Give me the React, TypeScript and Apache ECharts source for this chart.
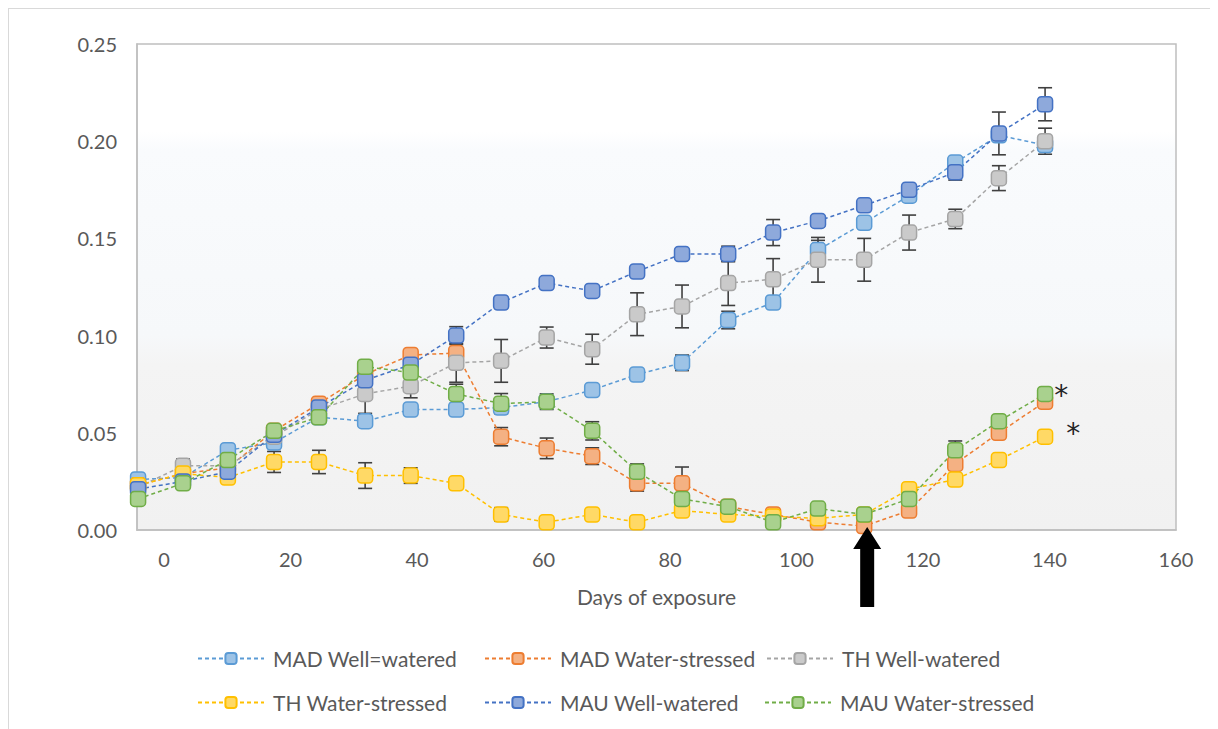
import React, { useEffect, useRef } from "react";
import * as echarts from "echarts";

// ---- data ----
const DAYS = [-4.1, 3.0, 10.1, 17.4, 24.5, 31.8, 39.0, 46.2, 53.3, 60.5, 67.7, 74.8, 81.9, 89.2, 96.3, 103.4, 110.7, 117.8, 125.1, 132.0, 139.3];

const SERIES_NAMES = [
  "MAD Well=watered",
  "MAD Water-stressed",
  "TH Well-watered",
  "TH Water-stressed",
  "MAU Well-watered",
  "MAU Water-stressed",
];

const MAD_WW = [0.026, 0.027, 0.041, 0.045, 0.058, 0.056, 0.062, 0.062, 0.063, 0.066, 0.072, 0.080, 0.086, 0.108, 0.117, 0.144, 0.158, 0.172, 0.189, 0.203, 0.198];
const MAD_WS = [0.023, 0.029, 0.032, 0.051, 0.065, 0.080, 0.090, 0.091, 0.048, 0.042, 0.038, 0.024, 0.024, 0.012, 0.008, 0.004, 0.002, 0.010, 0.034, 0.050, 0.066];
const TH_WW = [0.022, 0.033, 0.033, 0.048, 0.062, 0.070, 0.074, 0.086, 0.087, 0.099, 0.093, 0.111, 0.115, 0.127, 0.129, 0.139, 0.139, 0.153, 0.160, 0.181, 0.200];
const TH_WS = [0.023, 0.029, 0.027, 0.035, 0.035, 0.028, 0.028, 0.024, 0.008, 0.004, 0.008, 0.004, 0.010, 0.008, 0.007, 0.006, 0.008, 0.021, 0.026, 0.036, 0.048];
const MAU_WW = [0.021, 0.025, 0.030, 0.049, 0.063, 0.077, 0.085, 0.100, 0.117, 0.127, 0.123, 0.133, 0.142, 0.142, 0.153, 0.159, 0.167, 0.175, 0.184, 0.204, 0.219];
const MAU_WS = [0.016, 0.024, 0.036, 0.051, 0.058, 0.084, 0.081, 0.070, 0.065, 0.066, 0.051, 0.030, 0.016, 0.012, 0.004, 0.011, 0.008, 0.016, 0.041, 0.056, 0.070];

// error bar half-lengths (0 = none visible)
const MAD_WW_ERR = [0, 0, 0, 0, 0, 0, 0, 0, 0, 0, 0.002, 0.002, 0.004, 0.0045, 0, 0.005, 0, 0.002, 0.003, 0, 0.003];
const MAD_WS_ERR = [0, 0, 0, 0.002, 0, 0, 0, 0.006, 0.0047, 0.0053, 0.0043, 0.004, 0.0084, 0, 0, 0, 0, 0, 0, 0, 0];
const TH_WW_ERR = [0, 0.0035, 0, 0, 0, 0.01, 0.006, 0.01, 0.011, 0.0054, 0.0077, 0.011, 0.011, 0.0115, 0.0106, 0.0115, 0.011, 0.009, 0.005, 0.0064, 0.0067];
const TH_WS_ERR = [0, 0, 0, 0.0054, 0.006, 0.0066, 0.004, 0, 0.0035, 0, 0, 0, 0, 0, 0, 0, 0, 0, 0, 0, 0];
const MAU_WW_ERR = [0, 0, 0, 0.002, 0, 0, 0, 0.0046, 0.003, 0.002, 0, 0.002, 0.002, 0.004, 0.0067, 0.003, 0.002, 0, 0.004, 0.011, 0.0085];
const MAU_WS_ERR = [0, 0, 0, 0, 0, 0, 0, 0.005, 0.0052, 0.004, 0.0047, 0.004, 0, 0, 0, 0, 0, 0, 0.0048, 0, 0];

const X_TICKS = [0, 20, 40, 60, 80, 100, 120, 140, 160];
const ARROW_INDEX = 16; // irrigation resumed
const STAR_SERIES = [5, 3]; // series flagged with "*" at the last point

const VALUES = [MAD_WW, MAD_WS, TH_WW, TH_WS, MAU_WW, MAU_WS];
const ERRORS = [MAD_WW_ERR, MAD_WS_ERR, TH_WW_ERR, TH_WS_ERR, MAU_WW_ERR, MAU_WS_ERR];

// ---- styles ----
const COLORS = ["#5B9BD5", "#ED7D31", "#A5A5A5", "#FFC000", "#4472C4", "#70AD47"];
const FILLS = ["#9DC3E6", "#F4B183", "#CACACA", "#FFD966", "#8EA9DB", "#A9D18E"];
const FONT = "Lato, 'Open Sans', sans-serif";
const TEXT_COLOR = "#595959";
const LEGEND_POS = [
  { left: 183, top: 634 },
  { left: 470, top: 634 },
  { left: 752, top: 634 },
  { left: 183, top: 678 },
  { left: 470, top: 678 },
  { left: 750, top: 678 },
];
const STAR_OFFSETS = [[-4, 2], [8, -3]];

export default function App() {
  const ref = useRef<HTMLDivElement>(null);

  useEffect(() => {
    if (!ref.current) return;
    const chart = echarts.init(ref.current, null, { renderer: "svg" });

    const lineSeries = SERIES_NAMES.map((name, k) => ({
      type: "line",
      name,
      data: DAYS.map((d, i) => {
        const starIdx = STAR_SERIES.indexOf(k);
        if (i === DAYS.length - 1 && starIdx >= 0) {
          return {
            value: [d, VALUES[k][i]],
            label: {
              show: true,
              formatter: "*",
              position: "right",
              offset: STAR_OFFSETS[starIdx],
              fontSize: 28,
              color: "#262626",
              fontFamily: "'DejaVu Sans', sans-serif",
            },
          };
        }
        return [d, VALUES[k][i]];
      }),
      symbol: "roundRect",
      symbolSize: 15,
      lineStyle: { color: COLORS[k], width: 1.5, type: [4, 3] },
      itemStyle: { color: FILLS[k], borderColor: COLORS[k], borderWidth: 1.5 },
      z: 3,
      emphasis: { disabled: true },
    }));

    const errSeries = SERIES_NAMES.map((name, k) => ({
      type: "custom",
      name: "err-" + k,
      silent: true,
      z: 2,
      encode: { x: 0, y: 1 },
      data: DAYS.map((d, i) => [d, VALUES[k][i], ERRORS[k][i]]),
      renderItem: (params: any, api: any) => {
        const x = api.value(0);
        const y = api.value(1);
        const e = api.value(2);
        if (!e) return { type: "group", children: [] };
        const top = api.coord([x, y + e]);
        const bot = api.coord([x, y - e]);
        const cw = 7;
        const style = { stroke: "#404040", lineWidth: 1.6 };
        return {
          type: "group",
          children: [
            { type: "line", shape: { x1: top[0], y1: top[1], x2: bot[0], y2: bot[1] }, style },
            { type: "line", shape: { x1: top[0] - cw, y1: top[1], x2: top[0] + cw, y2: top[1] }, style },
            { type: "line", shape: { x1: bot[0] - cw, y1: bot[1], x2: bot[0] + cw, y2: bot[1] }, style },
          ],
        };
      },
    }));

    const option: any = {
      animation: false,
      backgroundColor: "#FFFFFF",
      textStyle: { fontFamily: FONT },
      grid: {
        left: 128,
        top: 35,
        width: 1039,
        height: 486,
        show: true,
        borderColor: "#BFBFBF",
        borderWidth: 1.5,
        backgroundColor: new echarts.graphic.LinearGradient(0, 0, 0, 1, [
          { offset: 0, color: "#FFFFFF" },
          { offset: 0.18, color: "#FFFFFF" },
          { offset: 0.22, color: "#F9FBFD" },
          { offset: 0.6, color: "#F6F8FA" },
          { offset: 0.66, color: "#F4F4F4" },
          { offset: 1, color: "#F1F1F1" },
        ]),
      },
      xAxis: {
        type: "value",
        min: -4.27,
        max: 160,
        name: "Days of exposure",
        nameLocation: "middle",
        nameGap: 56,
        nameTextStyle: { fontSize: 21, color: TEXT_COLOR, fontFamily: FONT },
        axisLine: { show: true, onZero: false, lineStyle: { color: "#BFBFBF", width: 1.5 } },
        axisTick: { show: false },
        splitLine: { show: false },
        axisLabel: {
          customValues: X_TICKS,
          fontSize: 20,
          color: TEXT_COLOR,
          margin: 19,
          fontFamily: FONT,
        },
      },
      yAxis: {
        type: "value",
        min: 0,
        max: 0.25,
        interval: 0.05,
        axisLine: { show: true, onZero: false, lineStyle: { color: "#BFBFBF", width: 1.5 } },
        axisTick: { show: false },
        splitLine: { show: false },
        axisLabel: {
          formatter: (v: number) => v.toFixed(2),
          fontSize: 20,
          color: TEXT_COLOR,
          margin: 20,
          fontFamily: FONT,
        },
      },
      legend: SERIES_NAMES.map((name, k) => ({
        data: [name],
        left: LEGEND_POS[k].left,
        top: LEGEND_POS[k].top,
        itemWidth: 66,
        itemHeight: 14,
        selectedMode: false,
        textStyle: { fontSize: 21, color: TEXT_COLOR, fontFamily: FONT, padding: [0, 0, 0, 4] },
      })),
      series: [...errSeries, ...lineSeries],
    };

    chart.setOption(option);

    const base = chart.convertToPixel({ gridIndex: 0 }, [DAYS[ARROW_INDEX], 0]) as number[];
    const ax = base[0] + 3;
    const ay = base[1] - 3;
    chart.setOption({
      graphic: [
        {
          type: "polygon",
          z: 100,
          shape: {
            points: [
              [ax, ay],
              [ax + 14, ay + 22],
              [ax + 7, ay + 22],
              [ax + 7, ay + 80],
              [ax - 7, ay + 80],
              [ax - 7, ay + 22],
              [ax - 14, ay + 22],
            ],
          },
          style: { fill: "#000000" },
        },
      ],
    });

    return () => chart.dispose();
  }, []);

  return (
    <div style={{ borderLeft: "1px solid #D9D9D9", borderTop: "1px solid #D9D9D9", width: 1209, height: 720 }}>
      <div ref={ref} style={{ width: 1209, height: 720 }} />
    </div>
  );
}
